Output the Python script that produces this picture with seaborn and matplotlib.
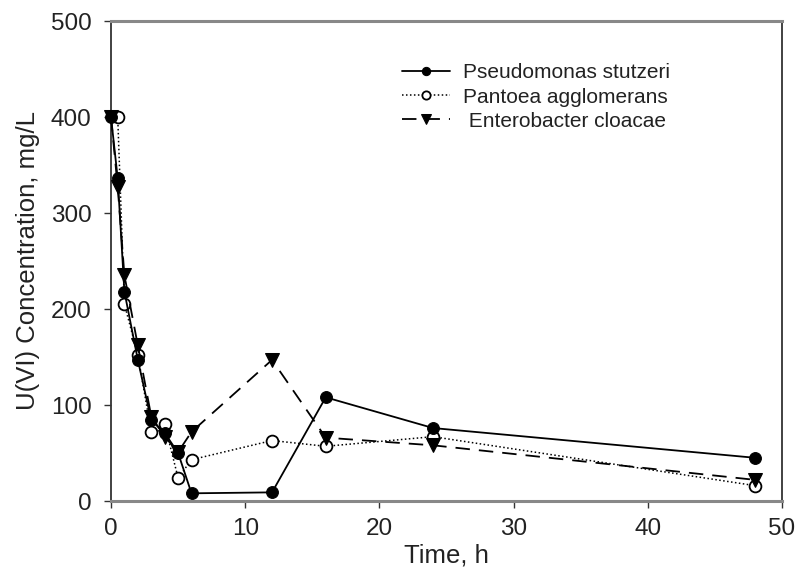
import matplotlib
matplotlib.use("Agg")
import matplotlib.pyplot as plt
import seaborn as sns
import pandas as pd

# Data
t_ps = [0, 0.5, 1, 2, 3, 4, 5, 6, 12, 16, 24, 48]
y_ps = [400, 336, 218, 147, 84, 71, 50, 8, 9, 108, 76, 45]

t_pa = [0.5, 1, 2, 3, 4, 5, 6, 12, 16, 24, 48]
y_pa = [400, 205, 152, 72, 80, 24, 43, 63, 57, 67, 16]

t_en = [0, 0.5, 1, 2, 3, 4, 5, 6, 12, 16, 24, 48]
y_en = [400, 327, 235, 162, 88, 67, 51, 72, 147, 66, 58, 22]

labels = ["Pseudomonas stutzeri", "Pantoea agglomerans", " Enterobacter cloacae"]
x_ticks = [0, 10, 20, 30, 40, 50]
y_ticks = [0, 100, 200, 300, 400, 500]

sns.set_style("white")
plt.rcParams['font.family'] = ['Liberation Sans', 'DejaVu Sans']

fig = plt.figure(figsize=(7.96, 5.74), dpi=100)
ax = fig.add_axes([111/796, 1 - 501/574, (782 - 111)/796, (501 - 21)/574])

df_ps = pd.DataFrame({"t": t_ps, "y": y_ps})
df_pa = pd.DataFrame({"t": t_pa, "y": y_pa})
df_en = pd.DataFrame({"t": t_en, "y": y_en})

sns.lineplot(data=df_pa, x="t", y="y", ax=ax, color="black", linestyle=(0, (1, 1.6)),
             linewidth=1.1, marker="o", markersize=8.5, markerfacecolor="white",
             markeredgecolor="black", markeredgewidth=1.3, label=labels[1],
             clip_on=False, zorder=3)
sns.lineplot(data=df_en, x="t", y="y", ax=ax, color="black", linestyle=(0, (8, 5)),
             linewidth=1.3, marker="v", markersize=9.5, markerfacecolor="black",
             markeredgecolor="black", label=labels[2], clip_on=False, zorder=4)
sns.lineplot(data=df_ps, x="t", y="y", ax=ax, color="black", linestyle="-",
             linewidth=1.3, marker="o", markersize=8.5, markerfacecolor="black",
             markeredgecolor="black", label=labels[0], clip_on=False, zorder=5)

ax.set_xlim(0, 50)
ax.set_ylim(0, 500)
ax.set_xticks(x_ticks)
ax.set_yticks(y_ticks)
ax.tick_params(axis="both", direction="out", length=5, width=1, color="#333333",
               labelsize=17.5, labelcolor="#222222", bottom=True, left=True)
ax.tick_params(axis="y", pad=9)
ax.tick_params(axis="x", pad=7)

for side in ["top", "bottom"]:
    ax.spines[side].set_color("#888888")
    ax.spines[side].set_linewidth(2.2)
for side in ["left", "right"]:
    ax.spines[side].set_color("#333333")
    ax.spines[side].set_linewidth(1.3)

ax.set_xlabel("Time, h", fontsize=18.5, color="#222222", labelpad=3)
ax.set_ylabel("U(VI) Concentration, mg/L", fontsize=18.5, color="#222222", labelpad=8)

handles, labs = ax.get_legend_handles_labels()
order = [labs.index(l) for l in labels]
leg = ax.legend([handles[i] for i in order], [labs[i] for i in order],
                loc="upper left", bbox_to_anchor=(394/796, 1 - 55/574),
                bbox_transform=fig.transFigure, frameon=False, fontsize=15,
                handlelength=2.3, handletextpad=0.6, labelspacing=0.25,
                borderaxespad=0, borderpad=0.4, markerscale=0.7)
for txt in leg.get_texts():
    txt.set_color("#222222")

fig.savefig("out.png", dpi=100)
